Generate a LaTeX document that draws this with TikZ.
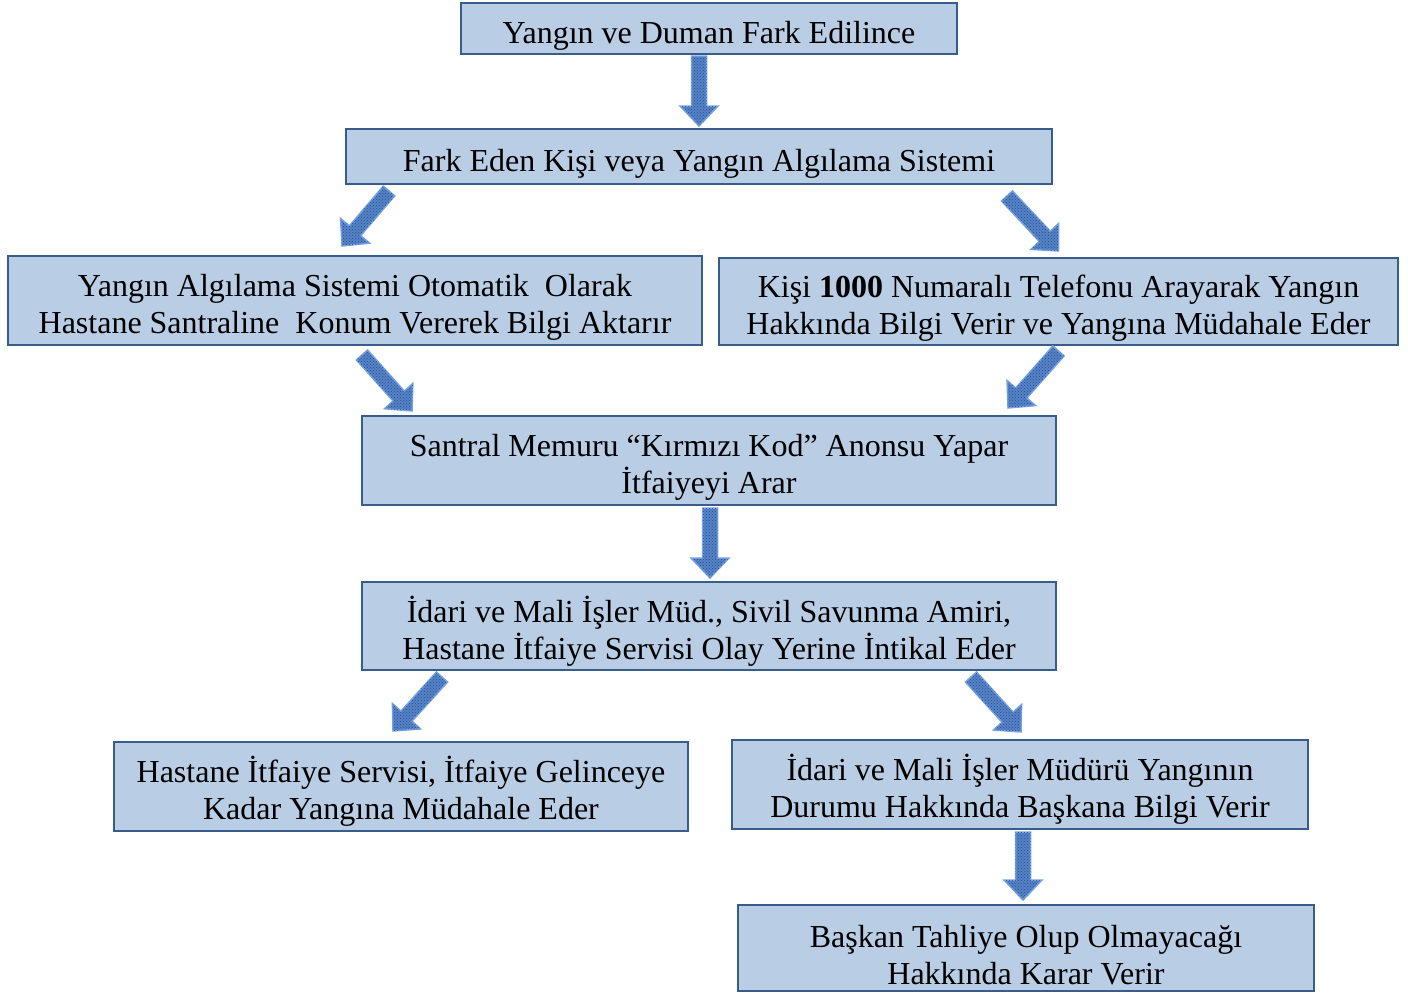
\documentclass[tikz,border=0pt]{standalone}
\usepackage{fontspec}
\setmainfont{Liberation Serif}
\usetikzlibrary{calc,patterns}
\definecolor{boxfill}{HTML}{B9CDE5}
\definecolor{boxline}{HTML}{385D8A}
\definecolor{arrfill}{HTML}{5582C6}
\definecolor{arrline}{HTML}{78A4E4}
\definecolor{arrdark}{HTML}{2C4F8F}
\newcommand\topstrut{\rule{0pt}{36pt}}
\tikzset{
  flowbox/.style={draw=boxline, line width=2pt, fill=boxfill, align=center,
    inner sep=0pt, font=\fontsize{32}{37}\selectfont},
  barrow/.style={fill=arrfill, draw=arrline, line width=1.5pt, line join=miter,
    postaction={pattern=crosshatch dots, pattern color=arrdark}}
}
\newcommand\blockarrow[2]{%
  \draw[barrow] let \p1=(#1), \p2=(#2),
    \n1={atan2(\y2-\y1,\x2-\x1)}, \n2={veclen(\x2-\x1,\y2-\y1)} in
    [shift={(\p1)}, rotate=\n1]
    (0,-7.5) -- ({\n2-20},-7.5) -- ({\n2-20},-19) -- ({\n2},0)
    -- ({\n2-20},19) -- ({\n2-20},7.5) -- (0,7.5) -- cycle;}
\begin{document}
\begin{tikzpicture}[x=1pt,y=1pt]
\useasboundingbox (0,0) rectangle (1408,-993);
\node[flowbox, minimum width=496pt, minimum height=51pt] (n1) at (709,-28.5)
  {\topstrut Yangın ve Duman Fark Edilince\rule[-7pt]{0pt}{7pt}};
\node[flowbox, minimum width=706pt, minimum height=55pt] (n2) at (699,-156.5)
  {\topstrut Fark Eden Kişi veya Yangın Algılama Sistemi\rule[-7pt]{0pt}{7pt}};
\node[flowbox, minimum width=694pt, minimum height=89pt] (n3) at (355,-300.5)
  {\topstrut Yangın Algılama Sistemi Otomatik~ Olarak\\Hastane Santraline~ Konum Vererek Bilgi Aktarır};
\node[flowbox, minimum width=679pt, minimum height=87pt] (n4) at (1058.5,-301.5)
  {\topstrut Kişi \textbf{1000} Numaralı Telefonu Arayarak Yangın\\Hakkında Bilgi Verir ve Yangına Müdahale Eder};
\node[flowbox, minimum width=694pt, minimum height=89pt] (n5) at (709,-460.5)
  {\topstrut Santral Memuru “Kırmızı Kod” Anonsu Yapar\\İtfaiyeyi Arar};
\node[flowbox, minimum width=694pt, minimum height=88pt] (n6) at (709,-626)
  {\topstrut İdari ve Mali İşler Müd., Sivil Savunma Amiri,\\Hastane İtfaiye Servisi Olay Yerine İntikal Eder};
\node[flowbox, minimum width=574pt, minimum height=89pt] (n7) at (401,-786.5)
  {\topstrut Hastane İtfaiye Servisi, İtfaiye Gelinceye\\Kadar Yangına Müdahale Eder};
\node[flowbox, minimum width=576pt, minimum height=89pt] (n8) at (1020,-784.5)
  {\topstrut İdari ve Mali İşler Müdürü Yangının\\Durumu Hakkında Başkana Bilgi Verir};
\node[flowbox, minimum width=576pt, minimum height=86pt] (n9) at (1026,-948)
  {\topstrut Başkan Tahliye Olup Olmayacağı\\Hakkında Karar Verir};
% arrow end points
\coordinate (a1s) at ($(n1.south)+(-10,-1)$);
\coordinate (a1e) at ($(n2.north)+(0,2)$);
\coordinate (a2s) at ($(n2.south west)+(44,-6)$);
\coordinate (a2e) at ($(n3.north)+(-13,9)$);
\coordinate (a3s) at ($(n2.south east)+(-46,-11)$);
\coordinate (a3e) at ($(n4.north)+(0,6)$);
\coordinate (a4s) at ($(n3.south)+(7,-9)$);
\coordinate (a4e) at ($(n5.north west)+(51,4)$);
\coordinate (a5s) at ($(n4.south)+(0,-5)$);
\coordinate (a5e) at ($(n5.north east)+(-49,7)$);
\coordinate (a6s) at ($(n5.south)+(1,-2)$);
\coordinate (a6e) at ($(n6.north)+(1,3)$);
\coordinate (a7s) at ($(n6.south west)+(81,-6)$);
\coordinate (a7e) at ($(n7.north)+(-8,10)$);
\coordinate (a8s) at ($(n6.south east)+(-86,-6)$);
\coordinate (a8e) at ($(n8.north)+(1,7)$);
\coordinate (a9s) at ($(n8.south)+(3,-2)$);
\coordinate (a9e) at ($(n9.north)+(-3,4)$);
\blockarrow{a1s}{a1e}
\blockarrow{a2s}{a2e}
\blockarrow{a3s}{a3e}
\blockarrow{a4s}{a4e}
\blockarrow{a5s}{a5e}
\blockarrow{a6s}{a6e}
\blockarrow{a7s}{a7e}
\blockarrow{a8s}{a8e}
\blockarrow{a9s}{a9e}
\end{tikzpicture}
\end{document}
